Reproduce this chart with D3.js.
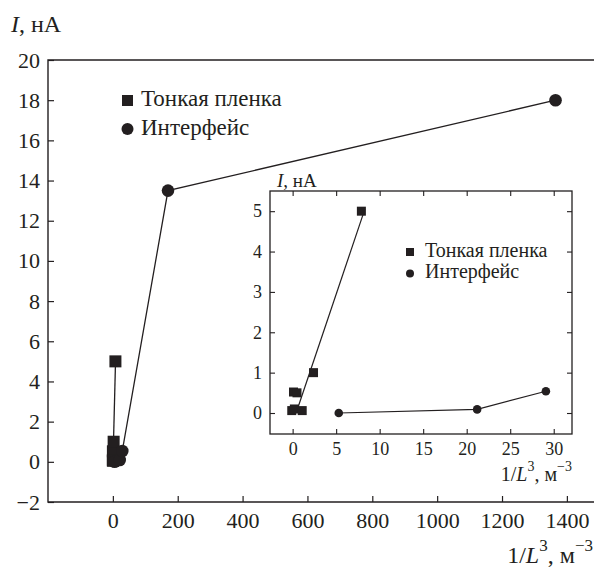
<!DOCTYPE html>
<html>
<head>
<meta charset="utf-8">
<script src="https://cdn.jsdelivr.net/npm/d3@7"></script>
<style>
  html, body { margin: 0; padding: 0; background: #fff; }
</style>
</head>
<body>
<div id="chart"></div>
<script>
// ---- data ----
const filmX = [-0.1, 0.2, 0.1, 0.5, 1.1, 2.4, 7.9];
const filmY = [0.06, 0.1, 0.52, 0.5, 0.06, 1.0, 5.0];
const ifaceX = [5.3, 21.2, 29.1, 170, 1365];
const ifaceY = [0.0, 0.09, 0.54, 13.5, 18.0];
const fitX = [0.4, 8.3];
const fitY = [0.0, 5.05];

const mainXTicks = [0, 200, 400, 600, 800, 1000, 1200, 1400];
const mainYTicks = [-2, 0, 2, 4, 6, 8, 10, 12, 14, 16, 18, 20];
const insetXTicks = [0, 5, 10, 15, 20, 25, 30];
const insetYTicks = [0, 1, 2, 3, 4, 5];

const legendLabels = ["Тонкая пленка", "Интерфейс"];

const INK = "#231f20";
const FONT = '"Liberation Serif", "Times New Roman", serif';
const W = 594, H = 569;

const film = filmX.map((x, i) => ({ x, y: filmY[i] }));
const iface = ifaceX.map((x, i) => ({ x, y: ifaceY[i] }));
const fit = fitX.map((x, i) => ({ x, y: fitY[i] }));

const svg = d3.select("#chart").append("svg")
  .attr("width", W).attr("height", H);

const numFmt = d => (d < 0 ? "\u2212" + Math.abs(d) : String(d));

const styleAxis = (g, fs, sw) => g
  .call(g => g.select(".domain").remove())
  .call(g => g.selectAll("text").attr("font-size", fs).attr("fill", INK))
  .call(g => g.selectAll("line").attr("stroke", INK).attr("stroke-width", sw));

// ---------------- main plot ----------------
const x = d3.scaleLinear().domain([-200, 1500]).range([48, 48 + 1700 * 0.3243]);
const y = d3.scaleLinear().domain([-2, 20]).range([502, 60]);

const main = svg.append("g");

main.append("g")
  .attr("transform", `translate(48,0)`)
  .call(d3.axisLeft(y).tickValues(mainYTicks).tickSizeInner(-6).tickSizeOuter(0).tickPadding(8).tickFormat(numFmt))
  .call(g => styleAxis(g, 22, 1.2));

main.append("g")
  .attr("transform", `translate(0,502)`)
  .call(d3.axisBottom(x).tickValues(mainXTicks).tickSizeInner(-6).tickSizeOuter(0).tickPadding(10).tickFormat(numFmt))
  .call(g => styleAxis(g, 22, 1.2));

// frame: left, top, bottom (right side runs off the picture)
main.append("path")
  .attr("d", `M${W + 10},60 H48 V502 H${W + 10}`)
  .attr("fill", "none").attr("stroke", INK).attr("stroke-width", 1.4);

const lineMain = d3.line().x(d => x(d.x)).y(d => y(d.y));

main.append("path").attr("d", lineMain(fit))
  .attr("fill", "none").attr("stroke", INK).attr("stroke-width", 1.3);
main.append("path").attr("d", lineMain(iface))
  .attr("fill", "none").attr("stroke", INK).attr("stroke-width", 1.3);

const sqMain = 12;
main.selectAll("rect.film").data(film).join("rect")
  .attr("class", "film")
  .attr("x", d => x(d.x) - sqMain / 2).attr("y", d => y(d.y) - sqMain / 2)
  .attr("width", sqMain).attr("height", sqMain).attr("fill", INK);
main.selectAll("circle.iface").data(iface).join("circle")
  .attr("class", "iface")
  .attr("cx", d => x(d.x)).attr("cy", d => y(d.y)).attr("r", 6.3).attr("fill", INK);

// main legend
main.append("rect").attr("x", 122).attr("y", 95).attr("width", 11).attr("height", 11).attr("fill", INK);
main.append("text").attr("x", 141).attr("y", 106).attr("font-size", 23).text(legendLabels[0]);
main.append("circle").attr("cx", 127.5).attr("cy", 129).attr("r", 6).attr("fill", INK);
main.append("text").attr("x", 141).attr("y", 135).attr("font-size", 23).text(legendLabels[1]);

// main axis titles
const yt = main.append("text").attr("x", 11).attr("y", 32).attr("font-size", 24);
yt.append("tspan").attr("font-style", "italic").text("I");
yt.append("tspan").text(", нА");

const xt = main.append("text").attr("x", 593).attr("y", 563).attr("font-size", 24).attr("text-anchor", "end");
xt.append("tspan").text("1/");
xt.append("tspan").attr("font-style", "italic").text("L");
xt.append("tspan").attr("dy", -12).attr("font-size", 17).text("3");
xt.append("tspan").attr("dy", 12).text(", м");
xt.append("tspan").attr("dy", -12).attr("font-size", 17).text("\u22123");

// ---------------- inset ----------------
const ix = d3.scaleLinear().domain([-2.6, 32.1]).range([270, 572]);
const iy = d3.scaleLinear().domain([-0.52, 5.5]).range([434, 191]);

const inset = svg.append("g");

inset.append("rect").attr("x", 270).attr("y", 191).attr("width", 302).attr("height", 243)
  .attr("fill", "#fff").attr("stroke", INK).attr("stroke-width", 1.3);

inset.append("g").attr("transform", "translate(270,0)")
  .call(d3.axisLeft(iy).tickValues(insetYTicks).tickSizeInner(-5).tickSizeOuter(0).tickPadding(8).tickFormat(numFmt))
  .call(g => styleAxis(g, 18, 1.1));
inset.append("g").attr("transform", "translate(572,0)")
  .call(d3.axisRight(iy).tickValues(insetYTicks).tickSizeInner(-5).tickSizeOuter(0).tickFormat(""))
  .call(g => styleAxis(g, 18, 1.1));
inset.append("g").attr("transform", "translate(0,434)")
  .call(d3.axisBottom(ix).tickValues(insetXTicks).tickSizeInner(-5).tickSizeOuter(0).tickPadding(8).tickFormat(numFmt))
  .call(g => styleAxis(g, 18, 1.1));
inset.append("g").attr("transform", "translate(0,191)")
  .call(d3.axisTop(ix).tickValues(insetXTicks).tickSizeInner(-5).tickSizeOuter(0).tickFormat(""))
  .call(g => styleAxis(g, 18, 1.1));

const lineInset = d3.line().x(d => ix(d.x)).y(d => iy(d.y));
const inDomain = d => d.x >= ix.domain()[0] && d.x <= ix.domain()[1];

inset.append("path").attr("d", lineInset(fit))
  .attr("fill", "none").attr("stroke", INK).attr("stroke-width", 1.2);
inset.append("path").attr("d", lineInset(iface.filter(inDomain)))
  .attr("fill", "none").attr("stroke", INK).attr("stroke-width", 1.2);

const sqIn = 9;
inset.selectAll("rect.film").data(film).join("rect")
  .attr("class", "film")
  .attr("x", d => ix(d.x) - sqIn / 2).attr("y", d => iy(d.y) - sqIn / 2)
  .attr("width", sqIn).attr("height", sqIn).attr("fill", INK);
inset.selectAll("circle.iface").data(iface.filter(inDomain)).join("circle")
  .attr("class", "iface")
  .attr("cx", d => ix(d.x)).attr("cy", d => iy(d.y)).attr("r", 4.3).attr("fill", INK);

// inset legend
inset.append("rect").attr("x", 406).attr("y", 248).attr("width", 8).attr("height", 8).attr("fill", INK);
inset.append("text").attr("x", 425).attr("y", 257).attr("font-size", 20).text(legendLabels[0]);
inset.append("circle").attr("cx", 410).attr("cy", 273.5).attr("r", 4).attr("fill", INK);
inset.append("text").attr("x", 425).attr("y", 278).attr("font-size", 20).text(legendLabels[1]);

// inset axis titles
const iyt = inset.append("text").attr("x", 277).attr("y", 187).attr("font-size", 19);
iyt.append("tspan").attr("font-style", "italic").text("I");
iyt.append("tspan").text(", нА");

const ixt = inset.append("text").attr("x", 572).attr("y", 481).attr("font-size", 20).attr("text-anchor", "end");
ixt.append("tspan").text("1/");
ixt.append("tspan").attr("font-style", "italic").text("L");
ixt.append("tspan").attr("dy", -10).attr("font-size", 14).text("3");
ixt.append("tspan").attr("dy", 10).text(", м");
ixt.append("tspan").attr("dy", -10).attr("font-size", 14).text("\u22123");

// one serif face for every label (inline style beats the axis defaults)
svg.selectAll("text").style("font-family", FONT).style("fill", INK);
</script>
</body>
</html>
